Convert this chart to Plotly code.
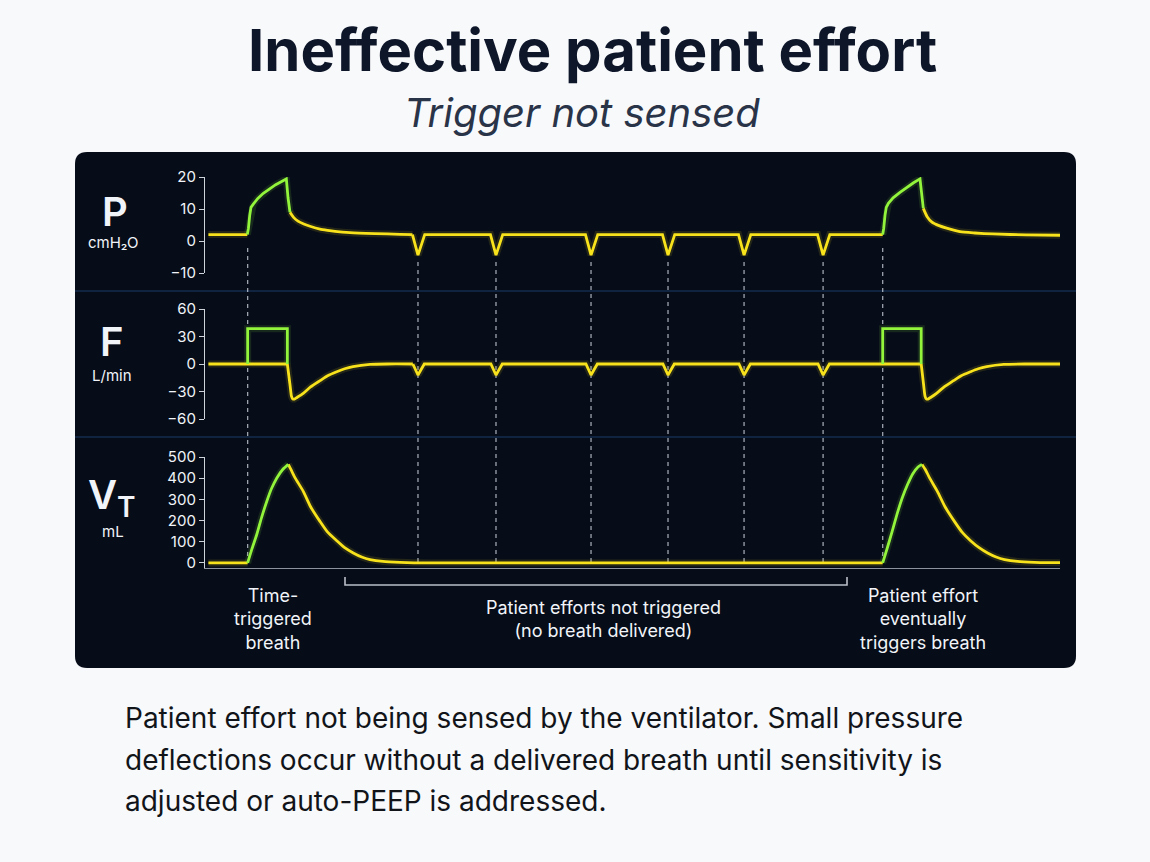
import plotly.graph_objects as go

W, H = 1150, 862
def X(px): return px / W
def Y(py): return 1 - py / H

# ---------------- data ----------------
# time in seconds
effort_times = [2.461, 3.377, 4.493, 5.397, 6.290, 7.218]
breath_starts = [0.461, 7.918]

# Pressure (cmH2O)
p_pre_t = [0, 0.457]
p_pre_v = [2, 2]
p_insp1_t = [0.457, 0.47, 0.485, 0.50, 0.527, 0.58, 0.645, 0.72, 0.79, 0.86, 0.915, 0.935, 0.958]
p_insp1_v = [2, 4, 8, 10.5, 11.5, 13.3, 14.9, 16.4, 17.6, 18.6, 19.4, 13.5, 9.0]
p_decay1_t = [0.958, 1.00, 1.052, 1.12, 1.193, 1.31, 1.40, 1.487, 1.663, 1.957, 2.25, 2.396]
p_decay1_v = [9.0, 7.4, 6.2, 5.3, 4.6, 3.7, 3.3, 3.0, 2.6, 2.3, 2.1, 2.0]
p_effort_t = [2.396, 2.461, 2.540, 3.312, 3.377, 3.456, 4.428, 4.493, 4.572,
              5.332, 5.397, 5.476, 6.225, 6.290, 6.369, 7.153, 7.218, 7.297, 7.918]
p_effort_v = [2.0, -4.4, 2.0, 2.0, -4.4, 2.0, 2.0, -4.4, 2.0,
              2.0, -4.4, 2.0, 2.0, -4.4, 2.0, 2.0, -4.4, 2.0, 2.0]
p_insp2_t = [7.918, 7.93, 7.945, 7.96, 7.985, 8.04, 8.121, 8.20, 8.28, 8.356, 8.375, 8.395]
p_insp2_v = [2, 4, 8, 10.5, 11.8, 13.5, 15.2, 16.8, 18.2, 19.4, 14.0, 10.2]
p_decay2_t = [8.395, 8.44, 8.493, 8.58, 8.669, 8.825, 9.0, 9.213, 9.6, 10.0]
p_decay2_v = [10.2, 7.6, 6.0, 4.8, 4.0, 2.9, 2.5, 2.2, 1.9, 1.8]

# Flow (L/min)
f_decay1_t = [0.927, 0.96, 0.975, 0.99, 1.01, 1.04, 1.114, 1.20, 1.31, 1.40, 1.507, 1.60, 1.698, 1.898, 2.10, 2.401]
f_decay1_v = [0, -24, -35, -38, -38.2, -36.5, -32, -25, -18.2, -12.8, -8.4, -5.2, -2.9, -0.5, 0, 0]
f_base_t = [0, 0.927]
f_base_v = [0, 0]
f_effort_t = [2.401, 2.461, 2.535, 3.317, 3.377, 3.451, 4.433, 4.493, 4.567,
              5.337, 5.397, 5.471, 6.230, 6.290, 6.364, 7.158, 7.218, 7.292, 8.37]
f_effort_v = [0, -12, 0, 0, -12, 0, 0, -12, 0,
              0, -12, 0, 0, -12, 0, 0, -12, 0, 0]
f_decay2_t = [8.37, 8.40, 8.415, 8.43, 8.45, 8.48, 8.55, 8.64, 8.75, 8.84, 8.95, 9.04, 9.14, 9.34, 9.60, 10.0]
f_decay2_v = [0, -24, -35, -38, -38.2, -36.5, -32, -25, -18.2, -12.8, -8.4, -5.2, -2.9, -0.5, 0, 0]
f_insp1_t = [0.461, 0.461, 0.927, 0.927]
f_insp1_v = [0, 38.5, 38.5, 0]
f_insp2_t = [7.918, 7.918, 8.37, 8.37]
f_insp2_v = [0, 38.5, 38.5, 0]

# Tidal volume (mL)
v_pre_t = [0, 0.461]
v_pre_v = [0, 0]
v_insp1_t = [0.461, 0.51, 0.567, 0.625, 0.685, 0.74, 0.802, 0.87, 0.938]
v_insp1_v = [0, 65, 133, 215, 290, 350, 400, 440, 465]
v_exp1_t = [0.938, 0.97, 1.02, 1.114, 1.20, 1.31, 1.40, 1.507, 1.60, 1.701, 1.80, 1.898, 2.05, 2.25, 2.6, 7.918]
v_exp1_v = [465, 440, 400, 338, 265, 196, 145, 105, 72, 47, 28, 16, 7, 3, 0, 0]
v_insp2_t = [7.918, 7.97, 8.03, 8.09, 8.15, 8.21, 8.27, 8.33, 8.38]
v_insp2_v = [0, 68, 150, 235, 310, 370, 420, 452, 465]
v_exp2_t = [8.38, 8.42, 8.47, 8.56, 8.65, 8.76, 8.85, 8.95, 9.05, 9.15, 9.25, 9.35, 9.5, 9.7, 10.0]
v_exp2_v = [465, 440, 400, 338, 265, 196, 145, 105, 72, 47, 28, 16, 7, 3, 1]

p_ticks = [-10, 0, 10, 20]
f_ticks = [-60, -30, 0, 30, 60]
v_ticks = [0, 100, 200, 300, 400, 500]

# ---------------- styling ----------------
GREEN = "#93f43c"
YELLOW = "#f8e21c"
PANEL = "#060c18"
TXT = "#f1f4f8"
AX = "#cfd4db"
FONT = "Inter"

fig = go.Figure()

def add(t, v, color, xa, ya, smooth=False):
    shape = dict(shape="spline", smoothing=0.6) if smooth else dict(shape="linear")
    fig.add_trace(go.Scatter(x=t, y=v, mode="lines", xaxis=xa, yaxis=ya, hoverinfo="skip",
                             line=dict(color=color, width=7, **shape), opacity=0.12, showlegend=False))
    fig.add_trace(go.Scatter(x=t, y=v, mode="lines", xaxis=xa, yaxis=ya, hoverinfo="skip",
                             line=dict(color=color, width=2.8, **shape), showlegend=False))

add(p_pre_t, p_pre_v, YELLOW, "x", "y")
add(p_decay1_t, p_decay1_v, YELLOW, "x", "y", smooth=True)
add(p_effort_t, p_effort_v, YELLOW, "x", "y")
add(p_decay2_t, p_decay2_v, YELLOW, "x", "y", smooth=True)
add(p_insp1_t, p_insp1_v, GREEN, "x", "y")
add(p_insp2_t, p_insp2_v, GREEN, "x", "y")

add(f_base_t, f_base_v, YELLOW, "x2", "y2")
add(f_decay1_t, f_decay1_v, YELLOW, "x2", "y2", smooth=True)
add(f_effort_t, f_effort_v, YELLOW, "x2", "y2")
add(f_decay2_t, f_decay2_v, YELLOW, "x2", "y2", smooth=True)
add(f_insp1_t, f_insp1_v, GREEN, "x2", "y2")
add(f_insp2_t, f_insp2_v, GREEN, "x2", "y2")

add(v_pre_t, v_pre_v, YELLOW, "x3", "y3")
add(v_exp1_t, v_exp1_v, YELLOW, "x3", "y3", smooth=True)
add(v_exp2_t, v_exp2_v, YELLOW, "x3", "y3", smooth=True)
add(v_insp1_t, v_insp1_v, GREEN, "x3", "y3", smooth=True)
add(v_insp2_t, v_insp2_v, GREEN, "x3", "y3", smooth=True)

xdom = [X(205), X(1060)]
xr = [-0.04, 10.0]
def yax(dom, rng, ticks):
    return dict(domain=dom, range=rng, tickvals=ticks, showgrid=False, zeroline=False,
                showline=True, linecolor=AX, linewidth=1.2, ticks="outside", ticklen=5,
                tickcolor=AX, tickwidth=1.2, tickfont=dict(family=FONT, size=15, color=TXT),
                fixedrange=True)

fig.update_layout(
    width=W, height=H, margin=dict(l=0, r=0, t=0, b=0, autoexpand=False),
    paper_bgcolor="#f8f9fb", plot_bgcolor="rgba(0,0,0,0)",
    xaxis=dict(domain=xdom, range=xr, visible=False, anchor="y"),
    xaxis2=dict(domain=xdom, range=xr, visible=False, anchor="y2", matches="x"),
    xaxis3=dict(domain=xdom, range=xr, anchor="y3", matches="x", showline=True, linecolor="#8c939e",
                linewidth=1.2, showticklabels=False, ticks="", showgrid=False, zeroline=False),
    yaxis=dict(anchor="x", **yax([Y(273), Y(177)], [-10, 20], p_ticks)),
    yaxis2=dict(anchor="x2", **yax([Y(419), Y(309)], [-60, 60], f_ticks)),
    yaxis3=dict(anchor="x3", **yax([Y(568), Y(457)], [-24, 500], v_ticks)),
)

# dark rounded panel
x0, x1, yt, yb = X(75), X(1076), Y(152), Y(668)
rx, ry = 12 / W, 12 / H
path = (f"M {x0+rx},{yt} L {x1-rx},{yt} Q {x1},{yt} {x1},{yt-ry} L {x1},{yb+ry} "
        f"Q {x1},{yb} {x1-rx},{yb} L {x0+rx},{yb} Q {x0},{yb} {x0},{yb+ry} "
        f"L {x0},{yt-ry} Q {x0},{yt} {x0+rx},{yt} Z")
shapes = [dict(type="path", path=path, xref="paper", yref="paper", fillcolor=PANEL,
               line=dict(width=0), layer="below")]
# dividers
for py in (291, 437):
    shapes.append(dict(type="line", xref="paper", yref="paper", x0=X(75), x1=X(1076), y0=Y(py), y1=Y(py),
                       line=dict(color="#1b3b66", width=1.2), layer="below"))
# dashed markers
for t in breath_starts:
    shapes.append(dict(type="line", xref="x", yref="paper", x0=t, x1=t, y0=Y(248), y1=Y(562),
                       line=dict(color="rgba(210,216,226,0.75)", width=1.3, dash="4px,4px"), layer="below"))
for t in effort_times:
    shapes.append(dict(type="line", xref="x", yref="paper", x0=t, x1=t, y0=Y(262), y1=Y(562),
                       line=dict(color="rgba(210,216,226,0.75)", width=1.3, dash="4px,4px"), layer="below"))
# bracket
shapes.append(dict(type="path", xref="paper", yref="paper",
                   path=f"M {X(345)},{Y(577)} L {X(345)},{Y(585)} L {X(847)},{Y(585)} L {X(847)},{Y(577)}",
                   line=dict(color="#b9bec7", width=1.6)))
fig.update_layout(shapes=shapes)

ann = []
def txt(x, y, s, size, color, xanchor="center", weight="normal", style="normal", family=FONT):
    ann.append(dict(x=X(x), y=Y(y), xref="paper", yref="paper", text=s, showarrow=False,
                    xanchor=xanchor, yanchor="middle", align="center",
                    font=dict(family=family, size=size, color=color, weight=weight, style=style)))

txt(592, 50, "Ineffective patient effort", 58, "#0e1629", weight="bold")
txt(582, 113, "Trigger not sensed", 40, "#2a3449", style="italic")

txt(115, 211, "P", 40, TXT, weight=600)
txt(113, 243, "cmH₂O", 15, TXT)
txt(112, 341, "F", 40, TXT, weight=600)
txt(112, 375, "L/min", 15, TXT)
txt(112, 497, "V<sub>T</sub>", 40, TXT, weight=600)
txt(113, 531, "mL", 15, TXT)

txt(273, 619, "Time-<br>triggered<br>breath", 18, TXT)
txt(603, 619, "Patient efforts not triggered<br>(no breath delivered)", 18, TXT)
txt(923, 619, "Patient effort<br>eventually<br>triggers breath", 18, TXT)

body = ["Patient effort not being sensed by the ventilator. Small pressure",
        "deflections occur without a delivered breath until sensitivity is",
        "adjusted or auto-PEEP is addressed."]
for i, line in enumerate(body):
    txt(123, 718 + i * 41.5, line, 28, "#111419", xanchor="left")

fig.update_layout(annotations=ann)
fig.write_html("out.html")
